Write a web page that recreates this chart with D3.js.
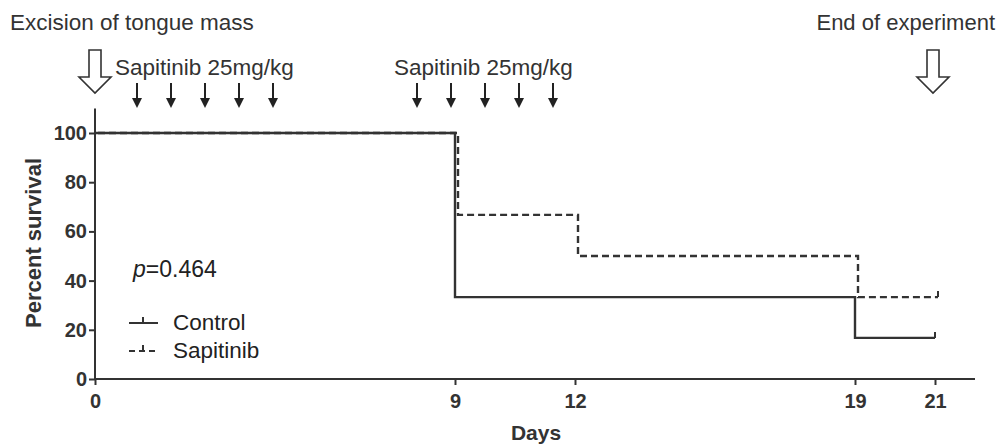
<!DOCTYPE html>
<html>
<head>
<meta charset="utf-8">
<script src="https://cdn.jsdelivr.net/npm/d3@7"></script>
<style>
  body { margin: 0; background: #fff; }
  svg { font-family: Arial, "Liberation Sans", sans-serif; }
</style>
</head>
<body>
<div id="chart"></div>
<script>
// survival steps: [day, percent]
var controlSteps = [[0, 100], [9, 33.3], [19, 16.7], [21, 16.7]];
var sapitinibSteps = [[0, 100], [9, 66.7], [12, 50], [19, 33.3], [21, 33.3]];
var xTicks = [0, 9, 12, 19, 21];
var yTicks = [0, 20, 40, 60, 80, 100];
var doseDays1 = [1.05, 1.9, 2.75, 3.6, 4.45];
var doseDays2 = [8.05, 8.9, 9.75, 10.6, 11.45];
var pValue = "0.464";

var width = 1001, height = 447;
var ink = "#333";
var fs = "22.5px";

var x = d3.scaleLinear().domain([0, 22]).range([95, 975]);
var y = d3.scaleLinear().domain([0, 100]).range([379, 133]);

var svg = d3.select("#chart").append("svg")
  .attr("width", width)
  .attr("height", height);

// axes
var xAxis = d3.axisBottom(x).tickValues(xTicks).tickSize(6).tickSizeOuter(0);
var yAxis = d3.axisLeft(y).tickValues(yTicks).tickSize(6).tickSizeOuter(0);

var gx = svg.append("g").attr("transform", "translate(0," + y(0) + ")").call(xAxis);
var gy = svg.append("g").attr("transform", "translate(" + x(0) + ",0)").call(yAxis);

[gx, gy].forEach(function (g) {
  g.select(".domain").attr("stroke", ink).attr("stroke-width", 2);
  g.selectAll(".tick line").attr("stroke", ink).attr("stroke-width", 2);
  g.selectAll(".tick text")
    .attr("fill", ink)
    .style("font-family", "Arial, 'Liberation Sans', sans-serif")
    .style("font-size", "20px")
    .style("font-weight", "bold");
});
gx.select(".domain").attr("d", "M" + x(0) + ",0H" + x(22));
gy.select(".domain").attr("d", "M0," + y(0) + "V" + y(110));
gx.selectAll(".tick text").attr("dy", "0.71em").attr("y", 15);
gy.selectAll(".tick text").attr("x", -8);

// axis titles
svg.append("text")
  .attr("x", 536)
  .attr("y", 440)
  .attr("text-anchor", "middle")
  .attr("fill", ink)
  .style("font-size", "21px")
  .style("font-weight", "bold")
  .text("Days");

svg.append("text")
  .attr("transform", "translate(41,243) rotate(-90)")
  .attr("text-anchor", "middle")
  .attr("fill", ink)
  .style("font-size", "22px")
  .style("font-weight", "bold")
  .text("Percent survival");

// step lines
var line = d3.line()
  .x(function (d) { return x(d[0]); })
  .y(function (d) { return y(d[1]); })
  .curve(d3.curveStepAfter);

svg.append("path")
  .datum(controlSteps)
  .attr("d", line)
  .attr("fill", "none")
  .attr("stroke", ink)
  .attr("stroke-width", 2.4);

svg.append("path")
  .datum(sapitinibSteps)
  .attr("d", line)
  .attr("transform", "translate(3,0)")
  .attr("fill", "none")
  .attr("stroke", ink)
  .attr("stroke-width", 2.4)
  .attr("stroke-dasharray", "7,4");

// censor ticks at end
[controlSteps, sapitinibSteps].forEach(function (s, i) {
  var last = s[s.length - 1];
  svg.append("line")
    .attr("x1", x(last[0]) + (i ? 3 : 0)).attr("x2", x(last[0]) + (i ? 3 : 0))
    .attr("y1", y(last[1])).attr("y2", y(last[1]) - 6)
    .attr("stroke", ink).attr("stroke-width", 2);
});

// p value
var pt = svg.append("text")
  .attr("x", 133)
  .attr("y", 277)
  .attr("fill", "#222")
  .style("font-size", "23px");
pt.append("tspan").style("font-style", "italic").text("p");
pt.append("tspan").text("=" + pValue);

// legend
var legend = [
  { name: "Control", dash: null, y: 323 },
  { name: "Sapitinib", dash: "6,4", y: 351 }
];
legend.forEach(function (d) {
  svg.append("line")
    .attr("x1", 129).attr("x2", 158)
    .attr("y1", d.y).attr("y2", d.y)
    .attr("stroke", ink).attr("stroke-width", 2)
    .attr("stroke-dasharray", d.dash);
  svg.append("line")
    .attr("x1", 143).attr("x2", 143)
    .attr("y1", d.y).attr("y2", d.y - 6)
    .attr("stroke", ink).attr("stroke-width", 2);
  svg.append("text")
    .attr("x", 173).attr("y", d.y + 7)
    .attr("fill", "#222")
    .style("font-size", fs)
    .text(d.name);
});

// annotations
function hollowArrow(cx, top, bottom) {
  var sw = 6, hw = 16, headTop = bottom - 16;
  var pts = [[cx - sw, top], [cx + sw, top], [cx + sw, headTop], [cx + hw, headTop],
    [cx, bottom], [cx - hw, headTop], [cx - sw, headTop]];
  svg.append("path")
    .attr("d", "M" + pts.map(function (p) { return p.join(","); }).join("L") + "Z")
    .attr("fill", "#fff")
    .attr("stroke", ink)
    .attr("stroke-width", 1.6);
}

function smallArrow(cx) {
  svg.append("line")
    .attr("x1", cx).attr("x2", cx)
    .attr("y1", 83).attr("y2", 102)
    .attr("stroke", "#222").attr("stroke-width", 2);
  svg.append("path")
    .attr("d", "M" + (cx - 5) + ",98L" + (cx + 5) + ",98L" + cx + ",108Z")
    .attr("fill", "#222");
}

svg.append("text")
  .attr("x", 10).attr("y", 30)
  .attr("fill", "#333")
  .style("font-size", fs)
  .text("Excision of tongue mass");

svg.append("text")
  .attr("x", 995).attr("y", 30)
  .attr("text-anchor", "end")
  .attr("fill", "#333")
  .style("font-size", "22px")
  .text("End of experiment");

hollowArrow(x(0), 50, 93);
hollowArrow(x(21) - 2, 50, 93);

svg.append("text")
  .attr("x", 115).attr("y", 75)
  .attr("fill", "#333")
  .style("font-size", fs)
  .text("Sapitinib 25mg/kg");

svg.append("text")
  .attr("x", 394).attr("y", 75)
  .attr("fill", "#333")
  .style("font-size", fs)
  .text("Sapitinib 25mg/kg");

doseDays1.concat(doseDays2).forEach(function (d) { smallArrow(x(d)); });
</script>
</body>
</html>
